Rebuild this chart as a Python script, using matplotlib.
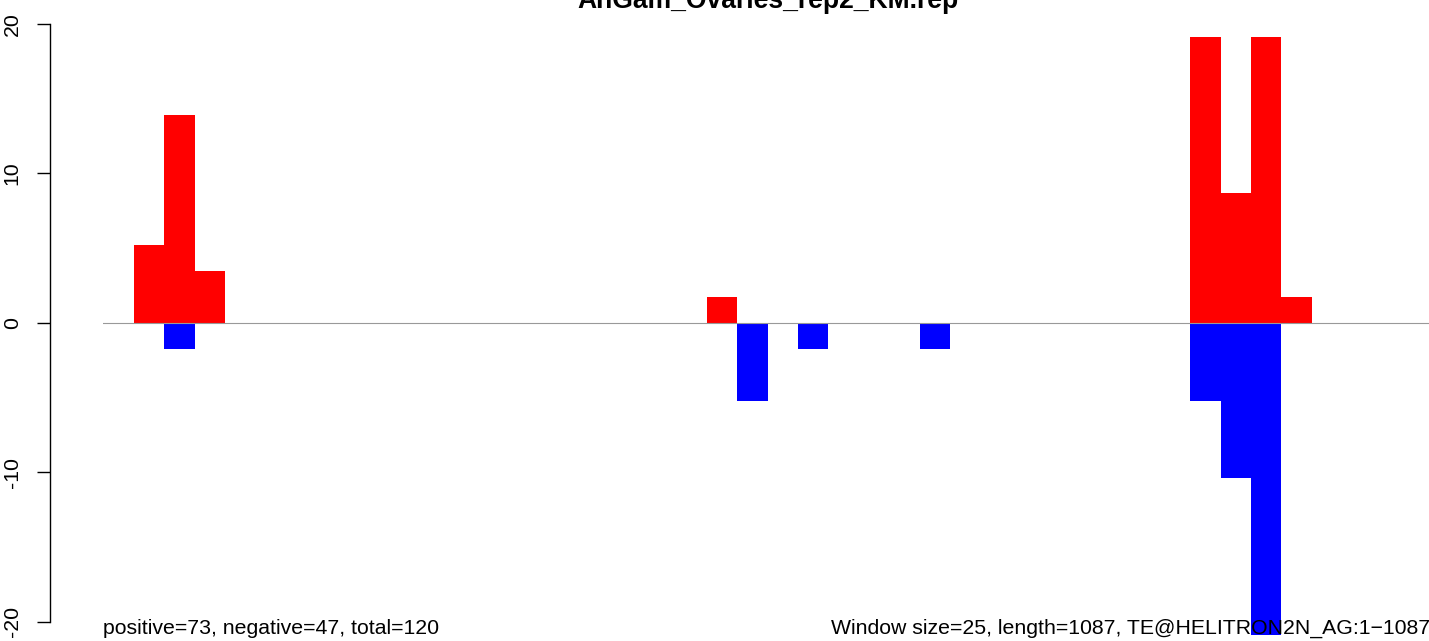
import matplotlib
matplotlib.use("Agg")
import matplotlib.pyplot as plt

# ---- data ----
title = "AnGam_Ovaries_rep2_KM.rep"
window = 25
pos_starts = [25.5, 50.5, 75.5, 496.5, 894, 919, 944, 969]
pos_values = [5.21, 13.9, 3.48, 1.74, 19.1, 8.69, 19.1, 1.74]
neg_starts = [50.5, 521.5, 571.5, 671.5, 894, 919, 944]
neg_values = [-1.74, -5.22, -1.74, -1.74, -5.22, -10.4, -20.9]
yticks = [-20, -10, 0, 10, 20]
left_note = "positive=73, negative=47, total=120"
right_note = "Window size=25, length=1087, TE@HELITRON2N_AG:1\u22121087"

W, H, DPI = 1429, 641, 100
plt.rcParams['font.family'] = ['Liberation Sans', 'DejaVu Sans']

fig = plt.figure(figsize=(W / DPI, H / DPI), dpi=DPI)
fig.patch.set_facecolor('white')

ax_left_px, ax_right_px = 103, 1432
ax_top_px, ax_bot_px = 0, 645.5
ax = fig.add_axes([ax_left_px / W, (H - ax_bot_px) / H,
                   (ax_right_px - ax_left_px) / W, (ax_bot_px - ax_top_px) / H])
ax.set_facecolor('none')

ax.bar(pos_starts, pos_values, width=window, align='edge', color='#FF0000',
       linewidth=0, zorder=2)
ax.bar(neg_starts, neg_values, width=window, align='edge', color='#0000FF',
       linewidth=0, zorder=2)
ax.axhline(0, color='#999999', linewidth=0.8, zorder=3)

ax.set_xlim(0, (ax_right_px - ax_left_px) / 1.216)
ax.set_ylim(-21.59, 21.59)

for s in ['top', 'right', 'bottom']:
    ax.spines[s].set_visible(False)
ax.spines['left'].set_position(('outward', 53 * 72 / DPI))
ax.spines['left'].set_bounds(-20, 20)
ax.spines['left'].set_linewidth(1.0)
ax.set_xticks([])
ax.set_yticks(yticks)
ax.set_yticklabels([str(t) for t in yticks], rotation=90, va='center',
                   fontsize=15.3)
ax.tick_params(axis='y', length=13 * 72 / DPI, width=1.0, pad=11)

fig.text(767.5 / W, (H - 8) / H, title, ha='center', va='baseline',
         fontsize=19.1, fontweight='bold')
fig.text(103 / W, 7 / H, left_note, ha='left', va='baseline', fontsize=15.3)
fig.text(1430 / W, 7 / H, right_note, ha='right', va='baseline', fontsize=15.3)

fig.savefig('out.png', dpi=DPI)
